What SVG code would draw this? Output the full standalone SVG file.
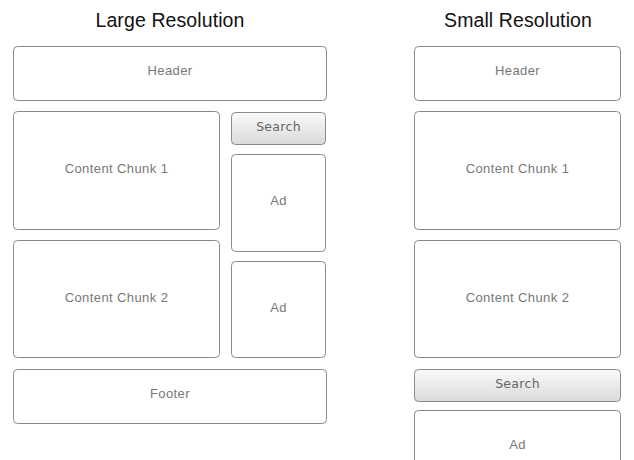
<svg xmlns="http://www.w3.org/2000/svg" width="634" height="460" viewBox="0 0 634 460">
<style>
.box{fill:#fff;stroke:#8a8a8a;stroke-width:1}
.btn{fill:url(#g);stroke:#8a8a8a;stroke-width:1}
.lbl{font-family:"Liberation Sans",Arial,sans-serif;font-size:13px;fill:#777;text-anchor:middle;letter-spacing:0.4px}
.blbl{font-family:"DejaVu Sans",sans-serif;font-size:12.5px;fill:#666;text-anchor:middle;letter-spacing:0.3px}
.ttl{font-family:"Liberation Sans",Arial,sans-serif;font-size:19.5px;fill:#111;text-anchor:middle;letter-spacing:0.1px}
</style>
<defs>
<linearGradient id="g" x1="0" y1="0" x2="0" y2="1">
<stop offset="0" stop-color="#fafafa"/>
<stop offset="1" stop-color="#dadada"/>
</linearGradient>
</defs>
<rect width="634" height="460" fill="#fff"/>
<text class="ttl" x="170" y="27">Large Resolution</text>
<text class="ttl" x="518" y="27">Small Resolution</text>
<g id="l-header"><rect class="box" x="13.5" y="46.5" width="313" height="54" rx="4"/><text class="lbl" x="170" y="75">Header</text></g>
<g id="l-chunk1"><rect class="box" x="13.5" y="111.5" width="206" height="118" rx="4"/><text class="lbl" x="116.5" y="173">Content Chunk 1</text></g>
<g id="l-chunk2"><rect class="box" x="13.5" y="240.5" width="206" height="117" rx="4"/><text class="lbl" x="116.5" y="302">Content Chunk 2</text></g>
<g id="l-search"><rect class="btn" x="231.5" y="112.5" width="94" height="32" rx="4"/><text class="blbl" x="278.5" y="131">Search</text></g>
<g id="l-ad1"><rect class="box" x="231.5" y="154.5" width="94" height="97" rx="4"/><text class="lbl" x="278.5" y="205">Ad</text></g>
<g id="l-ad2"><rect class="box" x="231.5" y="261.5" width="94" height="96" rx="4"/><text class="lbl" x="278.5" y="312">Ad</text></g>
<g id="l-footer"><rect class="box" x="13.5" y="369.5" width="313" height="54" rx="4"/><text class="lbl" x="170" y="398">Footer</text></g>
<g id="s-header"><rect class="box" x="414.5" y="46.5" width="206" height="54" rx="4"/><text class="lbl" x="517.5" y="75">Header</text></g>
<g id="s-chunk1"><rect class="box" x="414.5" y="111.5" width="206" height="118" rx="4"/><text class="lbl" x="517.5" y="173">Content Chunk 1</text></g>
<g id="s-chunk2"><rect class="box" x="414.5" y="240.5" width="206" height="117" rx="4"/><text class="lbl" x="517.5" y="302">Content Chunk 2</text></g>
<g id="s-search"><rect class="btn" x="414.5" y="369.5" width="206" height="32" rx="4"/><text class="blbl" x="517.5" y="388">Search</text></g>
<g id="s-ad"><rect class="box" x="414.5" y="410.5" width="206" height="80" rx="4"/><text class="lbl" x="517.5" y="449">Ad</text></g>
<g id="connectors"/>
</svg>
